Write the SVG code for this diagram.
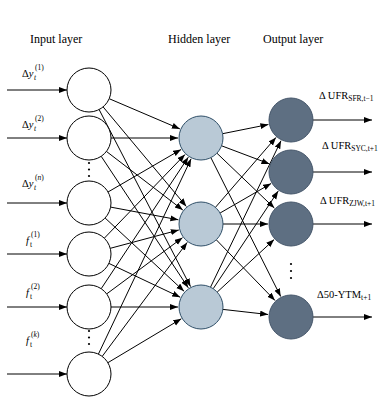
<svg xmlns="http://www.w3.org/2000/svg" width="381" height="397" viewBox="0 0 381 397">
<defs>
<marker id="ah" markerUnits="userSpaceOnUse" markerWidth="9" markerHeight="7" refX="8" refY="3" orient="auto">
<path d="M0,0 L8,3 L0,6 z" fill="#000"/>
</marker>
<style>
.c line{stroke:#000;stroke-width:1;marker-end:url(#ah)}
.in{fill:#fff;stroke:#000;stroke-width:1}
.hd{fill:#b9c9d6;stroke:#2f4f68;stroke-width:1}
.ou{fill:#5e6f82;stroke:#45566a;stroke-width:1}
.hdr{font-family:"Liberation Serif",serif;font-size:12px;fill:#000}
.lb{font-family:"Liberation Serif",serif;font-size:10.5px;fill:#000}
.sm{font-size:7.5px}
.it{font-style:italic}
.dot{fill:#000}
</style>
</defs>
<rect width="381" height="397" fill="#fff"/>
<g id="headers">
<text class="hdr" x="30" y="43">Input layer</text>
<text class="hdr" x="168" y="43">Hidden layer</text>
<text class="hdr" x="263" y="43">Output layer</text>
</g>
<g id="connectors" class="c">
<line x1="7" y1="90" x2="67" y2="90"/>
<line x1="7" y1="138" x2="67" y2="138"/>
<line x1="7" y1="203" x2="67" y2="203"/>
<line x1="7" y1="254" x2="67" y2="254"/>
<line x1="7" y1="307" x2="67" y2="307"/>
<line x1="7" y1="374" x2="67" y2="374"/>
<line x1="109.2" y1="98.7" x2="179.9" y2="128.9"/>
<line x1="103.1" y1="106.9" x2="186.3" y2="206.4"/>
<line x1="99.1" y1="109.5" x2="190.5" y2="286.6"/>
<line x1="111" y1="138" x2="178" y2="138"/>
<line x1="106.4" y1="151.4" x2="182.8" y2="210.0"/>
<line x1="101.2" y1="156.3" x2="188.3" y2="287.8"/>
<line x1="108.0" y1="192.0" x2="181.1" y2="149.5"/>
<line x1="110.6" y1="207.1" x2="178.4" y2="219.8"/>
<line x1="105.1" y1="218.0" x2="184.1" y2="291.3"/>
<line x1="104.3" y1="238.2" x2="185.0" y2="154.5"/>
<line x1="110.3" y1="248.3" x2="178.8" y2="230.0"/>
<line x1="108.9" y1="263.4" x2="180.2" y2="297.2"/>
<line x1="101.2" y1="288.7" x2="188.3" y2="157.2"/>
<line x1="106.7" y1="293.9" x2="182.5" y2="237.7"/>
<line x1="111" y1="307" x2="178" y2="307"/>
<line x1="98.4" y1="354.1" x2="191.1" y2="158.8"/>
<line x1="102.2" y1="356.4" x2="187.2" y2="242.4"/>
<line x1="107.9" y1="362.7" x2="181.3" y2="318.8"/>
<line x1="222.6" y1="133.7" x2="268.4" y2="124.5"/>
<line x1="221.6" y1="145.8" x2="269.5" y2="163.9"/>
<line x1="216.9" y1="153.2" x2="274.4" y2="208.1"/>
<line x1="210.9" y1="157.7" x2="280.7" y2="296.5"/>
<line x1="215.4" y1="207.4" x2="276.0" y2="137.4"/>
<line x1="220.1" y1="213.0" x2="271.1" y2="183.5"/>
<line x1="223" y1="224" x2="268" y2="224"/>
<line x1="216.3" y1="239.8" x2="275.0" y2="300.5"/>
<line x1="210.5" y1="287.2" x2="281.0" y2="140.7"/>
<line x1="213.2" y1="288.7" x2="278.2" y2="191.1"/>
<line x1="217.2" y1="292.1" x2="274.1" y2="239.6"/>
<line x1="222.9" y1="309.4" x2="268.1" y2="314.5"/>
<line x1="313" y1="120" x2="372" y2="120"/>
<line x1="313" y1="172" x2="372" y2="172"/>
<line x1="313" y1="224" x2="372" y2="224"/>
<line x1="313" y1="317" x2="372" y2="317"/>
</g>
<g id="input-nodes">
<circle id="in1" class="in" cx="89" cy="90" r="22"/>
<circle id="in2" class="in" cx="89" cy="138" r="22"/>
<circle id="in3" class="in" cx="89" cy="203" r="22"/>
<circle id="in4" class="in" cx="89" cy="254" r="22"/>
<circle id="in5" class="in" cx="89" cy="307" r="22"/>
<circle id="in6" class="in" cx="89" cy="374" r="22"/>
<g id="in-dots1"><circle class="dot" cx="89" cy="163" r="1.1"/><circle class="dot" cx="89" cy="169.5" r="1.1"/><circle class="dot" cx="89" cy="176" r="1.1"/></g>
<g id="in-dots2"><circle class="dot" cx="89" cy="331" r="1.1"/><circle class="dot" cx="89" cy="337.5" r="1.1"/><circle class="dot" cx="89" cy="344" r="1.1"/></g>
</g>
<g id="hidden-nodes">
<circle id="h1" class="hd" cx="201" cy="138" r="22"/>
<circle id="h2" class="hd" cx="201" cy="224" r="22"/>
<circle id="h3" class="hd" cx="201" cy="307" r="22"/>
</g>
<g id="output-nodes">
<circle id="o1" class="ou" cx="291" cy="120" r="22"/>
<circle id="o2" class="ou" cx="291" cy="172" r="22"/>
<circle id="o3" class="ou" cx="291" cy="224" r="22"/>
<circle id="o4" class="ou" cx="291" cy="317" r="22"/>
<g id="out-dots"><circle class="dot" cx="291" cy="264" r="1.1"/><circle class="dot" cx="291" cy="271" r="1.1"/><circle class="dot" cx="291" cy="278" r="1.1"/></g>
</g>
<g id="input-labels" class="lb">
<text x="22" y="77">Δ<tspan class="it">y</tspan></text>
<text class="lb sm it" x="34" y="80">t</text>
<text class="lb sm" x="35" y="70">(1)</text>
<text x="22" y="128">Δ<tspan class="it">y</tspan></text>
<text class="lb sm it" x="34" y="131">t</text>
<text class="lb sm" x="35" y="121">(2)</text>
<text x="22" y="187">Δ<tspan class="it">y</tspan></text>
<text class="lb sm it" x="34" y="190">t</text>
<text class="lb sm" x="35" y="180">(<tspan class="it">n</tspan>)</text>
<text class="it" x="26" y="244">f</text>
<text class="lb sm" x="30" y="247">t</text>
<text class="lb sm" x="31" y="237">(1)</text>
<text class="it" x="26" y="296">f</text>
<text class="lb sm" x="30" y="299">t</text>
<text class="lb sm" x="31" y="289">(2)</text>
<text class="it" x="26" y="344">f</text>
<text class="lb sm" x="30" y="347">t</text>
<text class="lb sm" x="31" y="337">(<tspan class="it">k</tspan>)</text>
</g>
<g id="output-labels" class="lb">
<text x="319" y="99">Δ UFR<tspan class="sm" dy="2">SFR,t−1</tspan></text>
<text x="322" y="149">Δ UFR<tspan class="sm" dy="2">SYC,t+1</tspan></text>
<text x="320" y="204">Δ UFR<tspan class="sm" dy="2">ZJW,t+1</tspan></text>
<text x="317" y="298">Δ50-YTM<tspan class="sm" dy="2">t+1</tspan></text>
</g>
</svg>
